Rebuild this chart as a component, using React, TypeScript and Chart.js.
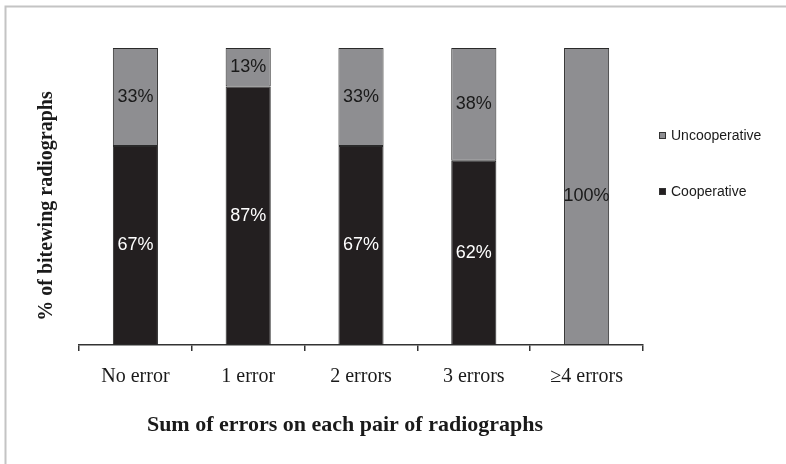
import React, { useEffect, useRef } from "react";
import { Chart, registerables } from "chart.js";

Chart.register(...registerables);

const categories = ["No error", "1 error", "2 errors", "3 errors", "≥4 errors"];
const cooperative = [67, 87, 67, 62, 0];
const uncooperative = [33, 13, 33, 38, 100];
const seriesNames = ["Cooperative", "Uncooperative"];
const xTitle = "Sum of errors on each pair of radiographs";
const yTitle = "% of bitewing radiographs";

const BLACK = "#231f20";
const GRAY = "#8e8e91";

const decorPlugin = {
  id: "decor",
  afterDatasetsDraw(chart: any) {
    const ctx = chart.ctx;
    ctx.save();
    ctx.font = "18px 'Liberation Sans', Arial, sans-serif";
    ctx.textAlign = "center";
    ctx.textBaseline = "middle";
    chart.data.datasets.forEach((ds: any, di: number) => {
      const meta = chart.getDatasetMeta(di);
      meta.data.forEach((el: any, i: number) => {
        const v = ds.data[i];
        if (!v) return;
        const cy = (el.y + el.base) / 2;
        ctx.fillStyle = di === 0 ? "#ffffff" : "#1a1a1a";
        ctx.fillText(v + "%", el.x, cy);
      });
    });
    ctx.restore();
  },
  afterDraw(chart: any) {
    const ctx = chart.ctx;
    ctx.save();
    // frame
    ctx.strokeStyle = "#c4c4c4";
    ctx.lineWidth = 2;
    ctx.beginPath();
    ctx.moveTo(5.5, chart.height);
    ctx.lineTo(5.5, 6.5);
    ctx.lineTo(chart.width, 6.5);
    ctx.stroke();

    // x title
    ctx.fillStyle = "#1a1a1a";
    ctx.font = "bold 22px 'Liberation Serif', 'Times New Roman', serif";
    ctx.textAlign = "center";
    ctx.textBaseline = "middle";
    ctx.fillText(xTitle, 345, 425);

    // y title
    ctx.font = "bold 20px 'Liberation Serif', 'Times New Roman', serif";
    ctx.save();
    ctx.translate(47, 206);
    ctx.rotate(-Math.PI / 2);
    ctx.fillText(yTitle, 0, 0);
    ctx.restore();

    // legend
    const items = [
      { name: seriesNames[1], color: GRAY, y: 136 },
      { name: seriesNames[0], color: BLACK, y: 192 },
    ];
    ctx.font = "14px 'Liberation Sans', Arial, sans-serif";
    ctx.textAlign = "left";
    items.forEach((it) => {
      ctx.fillStyle = it.color;
      ctx.fillRect(659, it.y - 4, 7, 7);
      ctx.strokeStyle = "#333";
      ctx.lineWidth = 1;
      ctx.strokeRect(659.5, it.y - 3.5, 6, 6);
      ctx.fillStyle = "#1a1a1a";
      ctx.fillText(it.name, 671, it.y);
    });
    ctx.restore();
  },
};

export default function App() {
  const ref = useRef<HTMLCanvasElement | null>(null);
  useEffect(() => {
    if (!ref.current) return;
    const chart = new Chart(ref.current, {
      type: "bar",
      data: {
        labels: categories,
        datasets: [
          {
            label: seriesNames[0],
            data: cooperative,
            backgroundColor: BLACK,
            borderColor: "#2a2a2a",
            borderWidth: 1,
            borderSkipped: false,
            barPercentage: 0.4,
            categoryPercentage: 1,
          },
          {
            label: seriesNames[1],
            data: uncooperative,
            backgroundColor: GRAY,
            borderColor: "#2a2a2a",
            borderWidth: 1,
            borderSkipped: false,
            barPercentage: 0.4,
            categoryPercentage: 1,
          },
        ],
      },
      options: {
        responsive: false,
        animation: false,
        devicePixelRatio: 1,
        layout: { padding: { left: 79, right: 143, top: 48, bottom: 61 } },
        plugins: {
          legend: { display: false },
          tooltip: { enabled: false },
        },
        scales: {
          x: {
            stacked: true,
            grid: {
              display: true,
              drawOnChartArea: false,
              drawTicks: true,
              tickLength: 6,
              color: "#333",
              lineWidth: 1.5,
            },
            border: { display: true, color: "#333", width: 1.5 },
            ticks: {
              padding: 14,
              color: "#1a1a1a",
              font: { family: "'Liberation Serif', 'Times New Roman', serif", size: 20 },
            },
          },
          y: {
            stacked: true,
            display: false,
            min: 0,
            max: 100,
          },
        },
      },
      plugins: [decorPlugin],
    });
    return () => chart.destroy();
  }, []);
  return (
    <div style={{ position: "absolute", left: 0, top: 0, width: 786, height: 464, background: "#fff" }}>
      <canvas ref={ref} width={786} height={464} style={{ display: "block" }} />
    </div>
  );
}
